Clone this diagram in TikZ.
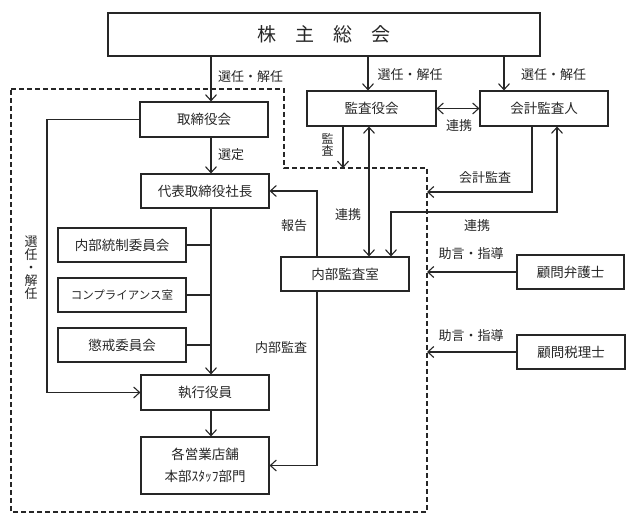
\documentclass[tikz,border=0pt]{standalone}
\usepackage{fontspec}
\newfontfamily\jp{Noto Sans CJK JP}
\usetikzlibrary{arrows.meta}
\begin{document}
\begin{tikzpicture}[x=1pt,y=-1pt,
  box/.style={draw=black!85, line width=1.1pt, minimum width=128pt, minimum height=34pt, inner sep=0pt, font=\jp\fontsize{13.5}{16}\selectfont, text=black!85},
  lbl/.style={font=\jp\fontsize{13}{15}\selectfont, inner sep=0pt, text=black!85},
  conn/.style={line width=1.1pt, draw=black!85},
  arr/.style={conn, -{Straight Barb[length=6pt,width=11pt]}},
  arrb/.style={conn, {Straight Barb[length=6pt,width=11pt]}-{Straight Barb[length=6pt,width=11pt]}},
  bound/.style={line width=1.1pt, draw=black!85, dash pattern=on 5pt off 3pt}
]
\useasboundingbox (0,0) rectangle (640,521);
% boundary
\draw[bound] (11,89) -- (284,89) -- (284,168) -- (427,168) -- (427,512) -- (11,512) -- cycle;
% nodes
\node[box, minimum width=432pt, minimum height=43pt, font=\jp\fontsize{19}{22}\selectfont] (soukai) at (324,34.5) {株　主　総　会};
\node[box, minimum height=35pt] (torishimari) at (204,119.5) {取締役会};
\node[box] (shacho) at (205,191) {代表取締役社長};
\node[box] (tousei) at (122,245) {内部統制委員会};
\node[box, font=\jp\fontsize{11.5}{14}\selectfont] (comp) at (122,295) {コンプライアンス室};
\node[box] (choukai) at (122,345) {懲戒委員会};
\node[box, minimum height=35pt] (shikko) at (205,392.5) {執行役員};
\node[box, minimum height=57pt, align=center, font=\jp\fontsize{13.5}{22}\selectfont] (eigyo) at (205,465.5) {各営業店舗\\本部ｽﾀｯﾌ部門};
\node[box, minimum width=129pt, minimum height=35pt] (kansayaku) at (371.5,108.5) {監査役会};
\node[box, minimum height=35pt] (kaikei) at (544,108.5) {会計監査人};
\node[box] (naibu) at (345,274) {内部監査室};
\node[box, minimum width=107pt] (bengo) at (570.5,272) {顧問弁護士};
\node[box, minimum width=108pt] (zeiri) at (571,352) {顧問税理士};
% helper coordinates
\coordinate (xa) at (211,0);
\coordinate (xl) at (47,0);
\coordinate (xb) at (368,0);
\coordinate (xc) at (504,0);
\coordinate (xk) at (343,0);
\coordinate (xd) at (369,0);
\coordinate (xe) at (532,0);
\coordinate (xf) at (557,0);
\coordinate (xh) at (317,0);
\coordinate (xdash) at (427,0);
\coordinate (kansaend) at (343,168);
\coordinate (kaikeiend) at (427,192);
\coordinate (c1) at (557,212);
\coordinate (c2) at (391,212);
% connectors
\draw[arr] (soukai.south -| xa) -- (torishimari.north -| xa);
\draw[arr] (torishimari.south -| xa) -- (shacho.north -| xa);
\draw[arr] (shacho.south -| xa) -- (shikko.north -| xa);
\draw[conn] (tousei.east) -- (tousei.east -| xa);
\draw[conn] (comp.east) -- (comp.east -| xa);
\draw[conn] (choukai.east) -- (choukai.east -| xa);
\draw[arr] (shikko.south -| xa) -- (eigyo.north -| xa);
\draw[arr] (torishimari.west) -- (torishimari.west -| xl) -- (shikko.west -| xl) -- (shikko.west);
\draw[arr] (soukai.south -| xb) -- (kansayaku.north -| xb);
\draw[arr] (soukai.south -| xc) -- (kaikei.north -| xc);
\draw[arrb] (kansayaku.east) -- (kaikei.west);
\draw[arr] (kansayaku.south -| xk) -- (kansaend);
\draw[arrb] (kansayaku.south -| xd) -- (naibu.north -| xd);
\draw[arr] (kaikei.south -| xe) |- (kaikeiend);
\draw[arrb] (kaikei.south -| xf) -- (c1) -- (c2) -- (naibu.north -| c2);
\draw[arr] (naibu.north -| xh) |- (shacho.east);
\draw[arr] (naibu.south -| xh) |- (eigyo.east);
\draw[arr] (bengo.west) -- (bengo.west -| xdash);
\draw[arr] (zeiri.west) -- (zeiri.west -| xdash);
% labels
\node[lbl] (l1) at (250.5,77) {選任・解任};
\node[lbl] (l2) at (410,75) {選任・解任};
\node[lbl] (l3) at (553.5,75) {選任・解任};
\node[lbl] (l4) at (231,155) {選定};
\node[lbl, align=center, font=\jp\fontsize{13}{13}\selectfont] (l5) at (31,267.5) {選\\任\\・\\解\\任};
\node[lbl, align=center, font=\jp\fontsize{12}{12}\selectfont] (l6) at (327.5,144.5) {監\\査};
\node[lbl] (l7) at (459,126) {連携};
\node[lbl] (l8) at (348,215) {連携};
\node[lbl] (l9) at (294,226) {報告};
\node[lbl] (l10) at (485,177.5) {会計監査};
\node[lbl] (l11) at (477,226) {連携};
\node[lbl] (l12) at (471,254) {助言・指導};
\node[lbl] (l13) at (471,336) {助言・指導};
\node[lbl] (l14) at (281,347.5) {内部監査};
\end{tikzpicture}
\end{document}
